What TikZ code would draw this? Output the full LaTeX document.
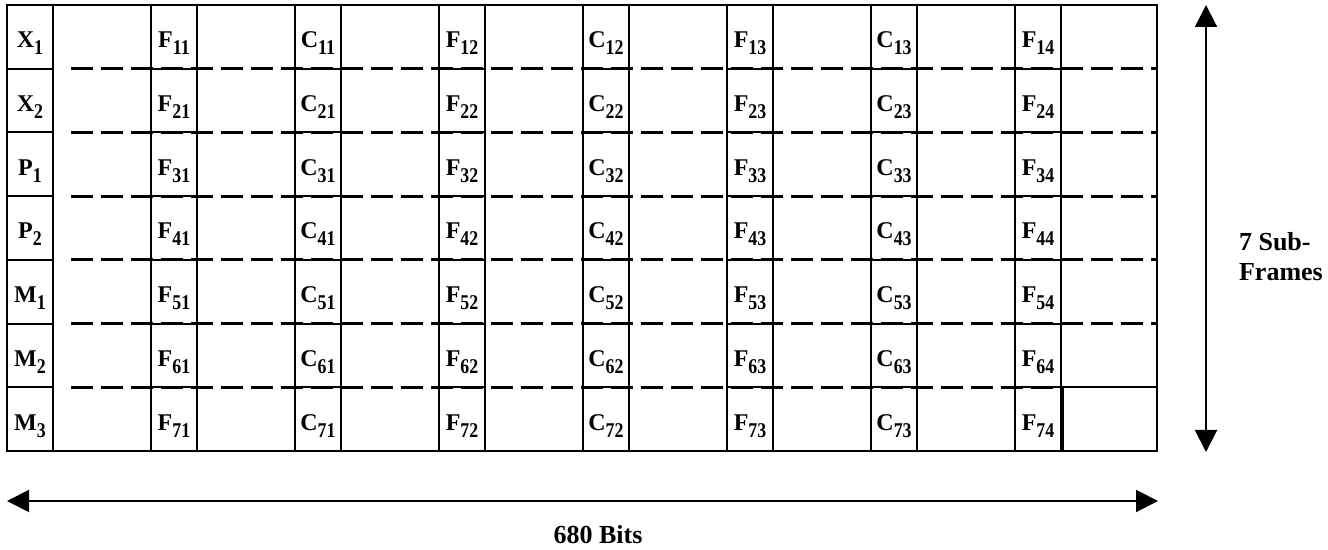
\documentclass[tikz,border=0pt]{standalone}
\usepackage{fontspec}
\setmainfont{Liberation Serif}
\usetikzlibrary{arrows.meta}

% letter with a lowered index, as in the frame cells
\newcommand{\cellname}[2]{#1\lower3.5pt\hbox{\scalebox{0.85}[1]{\fontsize{10.5}{10.5}\selectfont #2}}}

\begin{document}
\begin{tikzpicture}[
	x=0.5pt, y=-0.5pt,
	frame/.style={draw=black, line width=1pt},
	cell/.style={draw=black, line width=1pt, minimum width=23pt, minimum height=31.86pt,
		inner sep=0pt, text height=11pt, text depth=0pt,
		font=\fontsize{12}{12}\selectfont\bfseries},
	gap line/.style={line width=1.5pt, dash pattern=on 11pt off 4pt},
	span arrow/.style={line width=1pt,
		{Triangle[length=11pt, width=11pt]}-{Triangle[length=11pt, width=11pt]}},
	note/.style={font=\fontsize{13}{15}\selectfont\bfseries}
	]
	
	\useasboundingbox (0,0) rectangle (1328,550);
	
	\def\rowh{63.71} % height of one sub-frame
	
	% --- OUTER FRAME ---
	\draw[frame] (7,5) rectangle (1157,451);
	
	% --- CELLS: header, then F and C columns ---
	\foreach \n/\i [count=\r] in {X/1, X/2, P/1, P/2, M/1, M/2, M/3} {
		\pgfmathsetmacro\yc{5+\rowh*(\r-0.5)}
		\node[cell] (h\r) at (30,\yc) {\cellname{\n}{\i}};
		\foreach \k in {1,...,7} {
			\pgfmathtruncatemacro\col{(\k+1)/2}
			\pgfmathsetmacro\xc{174+144*(\k-1)}
			\ifodd\k \def\ch{F}\else \def\ch{C}\fi
			\node[cell] (c\r\k) at (\xc,\yc) {\cellname{\ch}{\r\col}};
		}
	}
	
	% Last sub-frame: closed box after F74
	\draw[frame] (1063,{5+6*\rowh}) rectangle (1157,451);
	
	% --- SUB-FRAME BOUNDARIES ---
	\foreach \r in {1,...,5}
		\draw[gap line] (71,{5+\r*\rowh}) -- (1158,{5+\r*\rowh});
	\draw[gap line] (71,{5+6*\rowh}) -- (1061,{5+6*\rowh});
	\draw[line width=1pt] (1061,{5+6*\rowh}) -- (1157,{5+6*\rowh});
	
	% --- DIMENSION ARROWS ---
	\coordinate (vtop) at (1206,5);
	\coordinate (vbot) at (1206,452);
	\draw[span arrow] (vtop) -- (vbot);
	
	\coordinate (hleft) at (7,501);
	\coordinate (hright) at (1158,501);
	\draw[span arrow] (hleft) -- (hright);
	
	% Labels
	\node[note] (bits) at (598,535) {680 Bits};
	\node[note, align=left, anchor=west] (subs) at (1232,257) {7 Sub-\\Frames};
	
\end{tikzpicture}
\end{document}
